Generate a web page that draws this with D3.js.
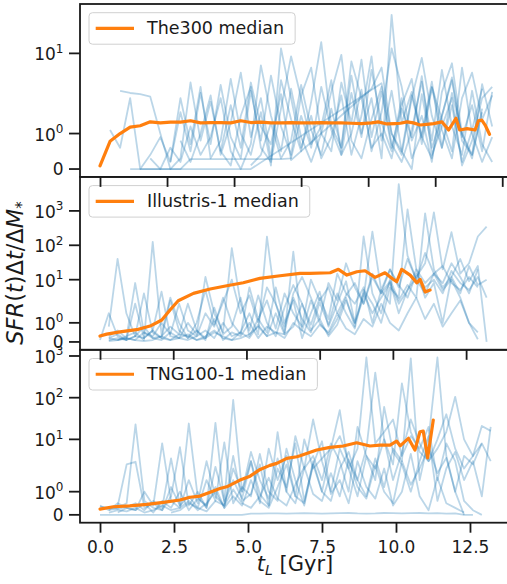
<!DOCTYPE html>
<html><head><meta charset="utf-8">
<script src="https://cdn.jsdelivr.net/npm/d3@7"></script>
<style>
body{margin:0;background:#fff}
svg{display:block}
text{font-family:"DejaVu Sans",sans-serif;fill:#1a1a1a}
</style></head>
<body><svg id="c" width="507" height="584"></svg>
<script>
// ---------------- data ----------------
const legendLabels = ["The300 median", "Illustris-1 median", "TNG100-1 median"];
const xTicks300 = [0, 2, 4, 6, 8, 10, 12];
const xTicksSim = [0, 2.5, 5, 7.5, 10, 12.5];
const xTickLabels = ["0.0", "2.5", "5.0", "7.5", "10.0", "12.5"];
const yTicks300 = [0, 1, 10];
const yTicksSim = [0, 1, 10, 100, 1000];

// sampling times of the individual histories
const tGrid300 = [0,0.3,0.6,0.9,1.2,1.5,1.8,2.1,2.4,2.7,3,3.3,3.6,3.9,4.2,4.5,4.8,5.1,5.4,5.7,6,6.3,6.6,6.9,7.2,7.5,7.8,8.1,8.4,8.7,9,9.3,9.6,9.9,10.2,10.5,10.8,11.1,11.4,11.7];
const tGridSim = [0,0.3,0.6,0.9,1.2,1.5,1.8,2.1,2.4,2.7,3,3.3,3.6,3.9,4.2,4.5,4.8,5.1,5.4,5.7,6,6.3,6.6,6.9,7.2,7.5,7.8,8.1,8.4,8.7,9,9.3,9.6,9.9,10.2,10.5,10.8,11.1,11.4,11.7,12,12.3,12.6,12.9,13.2];

// medians
const tMed300 = [0,0.3,0.6,0.9,1.2,1.5,1.8,2.1,2.4,2.7,3.0,3.3,3.6,3.9,4.2,4.5,4.8,5.1,5.4,5.7,6.0,6.3,6.6,6.9,7.2,7.5,7.8,8.1,8.3,8.56,8.8,8.96,9.16,9.35,9.55,9.75,9.95,10.2,10.4,10.62,10.73,10.95,11.19,11.29,11.39,11.49,11.62];
const med300 = [0.09,0.78,1.0,1.18,1.22,1.33,1.30,1.32,1.32,1.36,1.30,1.31,1.31,1.30,1.36,1.31,1.32,1.30,1.30,1.31,1.30,1.30,1.31,1.30,1.30,1.29,1.28,1.30,1.33,1.27,1.28,1.29,1.33,1.30,1.24,1.26,1.28,1.33,1.10,1.43,1.10,1.14,1.10,1.36,1.38,1.24,0.98];
const tMedIll = [0,0.23,0.68,1.31,1.71,2.11,2.39,2.67,3.19,3.76,4.33,4.89,5.46,6.15,6.83,7.17,7.86,8.14,8.43,8.77,9.05,9.39,9.73,9.9,10.13,10.3,10.59,10.82,10.93,11.1,11.27];
const medIll = [0.31,0.41,0.53,0.66,0.83,1.15,1.67,2.44,4.0,5.35,6.67,8.15,10.9,13.0,15.3,15.3,15.9,20,13.6,17.0,18.2,11.7,15.9,12.1,8.7,20,13.6,8.1,10.2,4.4,5.0];
const tMedTng = [0,0.45,1.01,1.58,2.14,2.7,3.04,3.38,3.72,4.05,4.28,4.73,5.07,5.41,5.74,5.97,6.31,6.65,6.76,7.32,7.77,8.22,8.67,9.12,9.46,9.8,10.02,10.14,10.42,10.64,10.81,10.92,11.07,11.26];
const medTng = [0.25,0.35,0.39,0.45,0.54,0.64,0.76,0.81,0.98,1.14,1.21,1.5,1.67,1.96,2.38,2.66,3.5,3.83,4.05,5.55,6.44,6.93,8.3,6.93,7.3,7.3,9.1,7.0,10.6,5.55,15.2,15.8,3.6,29.1];

// individual histories, The300 (null = no sample)
const h300a = [null,1.1,0.6,2.0,0,0.4,0.9,0.2,1.6,0.5,2.4,0.7,3.2,0.9,0.3,2.6,0.8,4.5,1.2,0.4,2.2,6.0,1.0,0.5,3.5,1.3,8.0,0.9,2.5,0.6,1.8,4.0,0.7,2.9,1.1,0.3,2.0,5.0,1.4,2.2];
const h300b = [null,null,2.6,2.4,2.3,2.1,1.0,0,0.3,3.5,0.8,1.9,0.5,0.1,1.5,3.0,0.6,0.2,1.7,9.0,2.0,0.7,1.2,3.8,0.4,1.0,2.7,0.5,1.6,12,3.0,0.8,1.5,0.2,2.5,7.0,1.0,0.4,3.3,1.2];
const h300c = [null,null,null,null,0,0,0,0,0,0.28,0.28,0.28,0.28,0.28,0.28,0.28,0.28,0.28,0.28,0.3,1.5,0.6,3.0,1.1,0.4,2.4,0.9,5.5,1.3,0.5,2.0,0.3,1.0,3.6,0.6,1.8,0.2,1.1,2.8,null];
const h300d = [null,null,null,0,0,0,0,0,0,0,0,0,0,0,0,0,null,null,null,null,null,null,null,null,null,null,null,null,3.4,1.0,0.5,2.2,0.9,0.3,1.5,4.2,0.8,0.4,1.6,null];
const h300e = [null,null,null,null,null,null,null,null,null,null,null,null,0.5,1.8,0.6,3.5,1.2,0.7,2.3,0.25,null,null,null,null,null,null,null,2.8,6.0,1.0,0.4,2.0,8.5,1.5,0.6,2.4,1.0,0.3,1.7,null];
const h300f = [null,null,null,null,null,null,null,null,0.8,0.2,1.0,2.2,0.4,1.3,5.0,0.9,2.0,0.3,3.8,1.4,0.5,1.9,15,1.2,0.6,4.5,1.0,2.0,0.3,40,1.3,2.5,0.9,3.0,1.4,0.5,6.0,1.0,0.2,0.9];
const h300g = [null,null,null,null,null,0.3,0,0.6,0.2,1.2,0.4,0.9,2.0,0.5,0,0.7,6.5,1.5,0.5,2.8,0.9,0.2,1.0,2.5,9.5,0.8,0.3,1.4,3.0,0.7,0.2,1.1,3.6,0.8,5.5,1.2,0.4,2.6,0.7,0.2];
const h300h = [null,null,null,null,null,null,null,0.2,2.0,0.7,3.0,0.3,0.8,4.0,1.0,0.4,1.6,0.1,12,2.0,0.6,1.5,0.3,0.9,2.2,0.4,1.5,9.0,0.8,2.6,0.5,0,2.3,0.6,1.5,3.8,0.9,1.8,0.5,2.5];
const h300i = [null,null,null,null,null,null,null,null,null,null,null,null,null,null,null,0.1,0.4,1.3,0.3,0.8,3.2,1.1,0.4,1.7,0.6,7.5,2.0,0.6,1.0,0.3,1.7,0.9,4.4,0.4,1.2,2.0,0.1,0.8,2.0,3.0];

// Illustris-1
const hIlla = [null,0.8,40,1.5,0.3,4.0,0.5,0.2,2.5,0.6,0.2,1.0,5.0,0.9,2.2,10,1.5,3.5,1.0,6.0,2.0,0.5,4.0,12,3.0,1.2,8.0,2.5,30,6.0,2.0,15,4.0,9.0,1.5,5.0,20,3.0,8.0,1.0,12,4.0,25,7.0,10];
const hIllb = [null,0.2,0.1,0.3,0.5,0.1,126,0.4,3.0,1.0,0.2,0.6,0.1,1.8,0.4,0.8,3.0,0.3,1.2,0.5,6.0,1.0,2.5,0.2,1.5,4.5,0.8,2.0,9.0,1.0,3.0,250,5.0,20,6.0,40,10,60,15,8.0,30,12,4.0,20,null];
const hIllc = [0.1,1.5,0.3,0.1,2.0,0.2,0.6,4.5,0.3,0.2,1.0,0.4,12,1.5,0.5,82,2.0,0.6,3.5,1.0,0.3,1.8,7.0,2.0,0.9,3.0,1.2,15,4.0,2.0,6.0,1.0,5.0,2.0,6000,50,10,4.0,15,25,8.0,5.0,12,6.0,null];
const hIlld = [null,0.2,0.4,0.1,0.3,0.8,0.2,0.1,0.5,0.2,0.1,0.3,0.6,0.2,1.0,0.3,0.5,1.5,0.4,178,2.0,0.8,3.0,1.2,0.5,2.2,0.9,4.0,1.5,0.7,5.0,2.0,1.0,6.0,3.0,1100,20,8.0,15,5.0,10,3.0,1.0,0.14,null];
const hIlle = [null,null,0.1,0.2,0.1,0.5,0.2,0.3,0.8,0.4,2.0,0.6,0.2,1.2,0.1,0.5,0.3,1.0,0.2,0.8,0.5,0.4,65,0.6,2.5,1.0,0.4,1.2,3.0,0.8,180,4.0,1.5,10,2.5,7.0,3.0,850,20,6.0,12,40,9.0,25,0];
const hIllf = [null,0.05,0.1,0.2,0.1,0.05,0.1,0.3,0.1,0.2,0.4,0.1,0.3,0.6,0.2,0.1,0.5,0.2,0.9,0.3,1.5,0.4,0.8,2.0,0.6,1.2,0.3,0.9,2.5,1.0,4.0,1.5,3.0,8.0,2.0,5.0,12,30,900,20,240,15,30,180,350];
const hIllg = [null,0.3,0.6,0.2,8.0,0.5,0.3,1.0,0.4,2.0,0.6,0.3,1.5,0.8,3.0,1.0,0.4,6.0,1.2,2.5,0.7,4.0,1.5,0.8,10,2.5,6.0,1.5,3.5,8.0,2.0,12,4.0,20,7.0,3.0,15,6.0,10,4.0,18,8.0,5.0,12,3.0];
const hIllh = [null,0.1,0.2,0.1,0.3,0.2,0.6,0.2,0.1,0.4,0.3,0.1,0.2,0.5,0.3,0.1,0.2,0.4,0.8,0.3,0.5,0.2,1.0,0.6,0.3,0.9,0.5,1.5,0.7,0.4,1.2,0.8,2.0,1.0,0.6,1.5,3.0,1.2,2.0,0.8,1.5,2.5,1.0,0.5,null];

// TNG100-1
const hTnga = [0,0,0,0,0,0,0,0,0,0,0,0,0,0,0,0,0,0.05,0.05,0.06,0.06,0.05,0.06,0.07,0.06,0.05,0.06,0.07,0.08,0.06,0.05,0.06,0.08,0.07,0.06,0.07,0.08,0.06,0.07,0.05,0.06,0,0,null,null];
const hTngb = [0.35,0.3,0.4,2.5,2.9,0.3,0.5,0.2,0.8,6.5,0.4,1.0,0.3,2.2,0.6,88,1.0,3.0,0.5,6.0,1.5,4.0,0.8,10,2.0,3.5,6.0,50,2.0,6.0,920,8.0,15,30,4.0,12,6.0,20,1.5,8.0,3.0,0.6,0.2,0,null];
const hTngc = [0.4,0.2,0.3,0.5,23,0.6,0.3,0.2,1.2,0.4,24,0.8,0.3,25,0.5,1.5,0.7,3.0,0.9,0.4,2.0,1.2,8.0,0.6,2.5,1.0,5.0,12,3.0,1.5,6.0,400,10,2.5,220,15,5.0,3.0,10,40,6.0,2.0,4.0,21,16];
const hTngd = [null,0.1,0.2,0.15,0.3,0.1,0.2,0.4,0.2,0.3,0.6,0.2,0.5,1.0,0.3,0.8,0.4,1.5,0.6,0.3,1.2,2.5,0.8,0.5,3.0,1.0,0.6,2.0,5.0,1.5,0.8,3.5,1.2,6.0,3.0,880,1.5,10,920,4.0,1.0,0,null,null,null];
const hTnge = [null,0.2,0.5,0.3,0.2,1.0,0.4,8.0,0.6,0.3,1.5,0.5,3.0,0.8,0.4,2.0,1.0,5.0,1.5,0.7,3.5,1.0,12,2.0,4.0,1.5,8.0,3.0,1.0,20,4.0,2.0,10,1.5,5.0,30,8.0,3.0,6.0,15,105,10,4.0,8.0,null];
const hTngf = [null,null,0.1,0.3,0.2,0.5,0.1,0.6,0.3,1.0,0.2,0.7,0.4,1.2,0.3,4.0,0.6,0.9,2.5,0.4,15,1.0,0.5,2.0,30,3.0,1.0,6.0,2.0,0.8,4.0,1.5,60,5.0,2.5,1.0,3.0,12,0.6,2.0,5.0,1.5,3.0,0.8,20];
const hTngg = [null,0.3,0.25,0.35,0.5,0.2,0.6,0.3,3.5,0.4,0.8,0.3,1.5,0.6,8.5,0.5,1.2,0.8,4.5,1.0,0.6,6.0,1.5,0.4,2.5,9.0,0.9,1.5,0.5,3.0,1.2,0.7,2.0,0.4,1.0,4.5,0.8,0.2,1.6,0.5,0.3,0.1,null,null,null];
const hTngh = [null,null,null,null,null,null,null,null,0.1,0.2,0.5,0.3,0.15,0.6,0.4,1.1,0.5,0.3,0.8,1.6,0.7,0.4,1.3,2.2,0.9,0.6,1.8,0.8,3.3,1.2,0.7,2.4,1.0,0.5,3.0,1.3,2.0,6.5,1.8,3.6,1.0,4.0,2.5,8.0,3.0];

// ---------------- drawing ----------------
const BLUE = "#1f77b4", ORANGE = "#ff7f0e", INK = "#1a1a1a";
const LT = 2, LS = 1 / (1 - 1 / 10);           // matplotlib default symlog
const symlog = v => v <= LT ? v * LS : LT * (LS + Math.log10(v / LT));

const panels = [
  {top: 4,     bottom: 176.9, xdom: [-0.5965, 12.53], ymax: 4.92, ticks: xTicks300, yt: yTicks300,
   grid: tGrid300, hist: [h300a,h300b,h300c,h300d,h300e,h300f,h300g,h300h,h300i], mt: tMed300, mv: med300, label: legendLabels[0]},
  {top: 176.9, bottom: 349.8, xdom: [-0.683, 14.34], ymax: 9.14, ticks: xTicksSim, yt: yTicksSim,
   grid: tGridSim, hist: [hIlla,hIllb,hIllc,hIlld,hIlle,hIllf,hIllg,hIllh], mt: tMedIll, mv: medIll, label: legendLabels[1]},
  {top: 349.8, bottom: 522.7, xdom: [-0.676, 14.19], ymax: 7.54, ticks: xTicksSim, yt: yTicksSim,
   grid: tGridSim, hist: [hTnga,hTngb,hTngc,hTngd,hTnge,hTngf,hTngg,hTngh], mt: tMedTng, mv: medTng, label: legendLabels[2]}
];

const svg = d3.select("#c");
const L = 80, R = 520;
const defs = svg.append("defs");

panels.forEach((p, k) => {
  const x = d3.scaleLinear().domain(p.xdom).range([L, R]);
  const ys = d3.scaleLinear().domain([-0.05 * p.ymax, 1.05 * p.ymax]).range([p.bottom, p.top]);
  const y = v => ys(symlog(v));
  p.x = x; p.y = y;

  defs.append("clipPath").attr("id", "clip" + k)
    .append("rect").attr("x", L).attr("y", p.top).attr("width", R - L).attr("height", p.bottom - p.top);

  const g = svg.append("g").attr("clip-path", `url(#clip${k})`);
  const line = d3.line().x(d => x(d[0])).y(d => y(d[1]));

  p.hist.forEach(h => {
    const pts = h.map((v, i) => [p.grid[i], v]).filter(d => d[1] !== null && d[0] !== undefined);
    g.append("path").attr("d", line(pts)).attr("fill", "none")
      .attr("stroke", BLUE).attr("stroke-opacity", 0.3).attr("stroke-width", 1.8)
      .attr("stroke-linejoin", "round");
  });
  const mpts = p.mv.map((v, i) => [p.mt[i], v]);
  g.append("path").attr("d", line(mpts)).attr("fill", "none")
    .attr("stroke", ORANGE).attr("stroke-width", 3.2)
    .attr("stroke-linejoin", "round").attr("stroke-linecap", "round");

  // legend
  const lg = svg.append("g");
  const ly = p.top + 8.7, lh = 31.5;
  const cy = ly + lh / 2;
  const txt = lg.append("text").attr("x", 147).attr("y", cy + 6).attr("font-size", 17.5).text(p.label);
  const tw = txt.node().getComputedTextLength();
  lg.insert("rect", "text").attr("x", 89).attr("y", ly).attr("width", 58 + tw + 11).attr("height", lh)
    .attr("rx", 3.5).attr("fill", "#fff").attr("fill-opacity", 0.8).attr("stroke", "#d0d0d0").attr("stroke-width", 1);
  lg.insert("line", "text").attr("x1", 95.7).attr("x2", 134).attr("y1", cy).attr("y2", cy)
    .attr("stroke", ORANGE).attr("stroke-width", 3.2);
});

// spines and ticks on top
panels.forEach((p, k) => {
  svg.append("rect").attr("x", L).attr("y", p.top).attr("width", R - L).attr("height", p.bottom - p.top)
    .attr("fill", "none").attr("stroke", INK).attr("stroke-width", 1.8);

  const xa = d3.axisBottom(p.x).tickValues(p.ticks).tickSize(10).tickPadding(8)
    .tickFormat((d, i) => k === 2 ? xTickLabels[i] : "");
  const gx = svg.append("g").attr("transform", `translate(0,${p.bottom})`).call(xa);
  gx.select(".domain").remove();
  gx.selectAll("line").attr("stroke", INK).attr("stroke-width", 1.8);
  gx.selectAll("text").attr("font-size", 17).attr("fill", INK).attr("font-family", "DejaVu Sans");
  if (k !== 2) gx.selectAll("text").remove();

  // y ticks
  const gy = svg.append("g");
  p.yt.forEach(v => {
    const yy = p.y(v);
    gy.append("line").attr("x1", L - 11).attr("x2", L).attr("y1", yy).attr("y2", yy)
      .attr("stroke", INK).attr("stroke-width", 1.8);
    const t = gy.append("text").attr("x", 63.5).attr("text-anchor", "end").attr("font-size", 17);
    if (v === 0) {
      t.attr("y", yy + 6).text("0");
    } else {
      const e = Math.round(Math.log10(v));
      t.attr("y", yy + 7);
      t.append("tspan").text("10");
      t.append("tspan").attr("font-size", 12).attr("dy", -7.5).text(String(e));
    }
  });
});

// axis labels
const xl = svg.append("text").attr("x", 295).attr("y", 571).attr("text-anchor", "middle").attr("font-size", 21);
xl.append("tspan").attr("font-style", "italic").text("t");
xl.append("tspan").attr("font-style", "italic").attr("font-size", 14).attr("dy", 4).text("L");
xl.append("tspan").attr("dy", -4).text(" [Gyr]");

const yl = svg.append("text").attr("transform", "translate(23,273) rotate(-90)")
  .attr("text-anchor", "middle").attr("font-size", 22.5);
yl.append("tspan").attr("font-style", "italic").text("SFR");
yl.append("tspan").text("(");
yl.append("tspan").attr("font-style", "italic").text("t");
yl.append("tspan").text(")Δ");
yl.append("tspan").attr("font-style", "italic").text("t");
yl.append("tspan").text("/Δ");
yl.append("tspan").attr("font-style", "italic").text("M");
yl.append("tspan").attr("font-size", 15).attr("dy", 4).text("*");
</script>
</body></html>
